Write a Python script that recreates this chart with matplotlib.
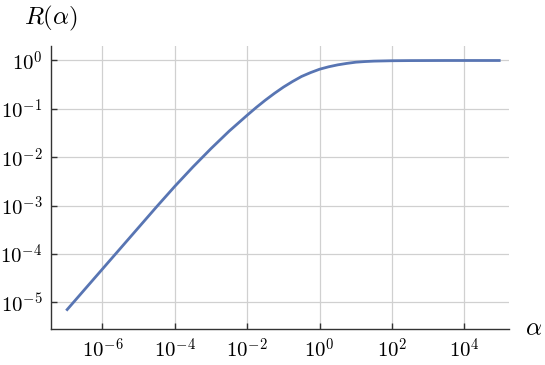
import numpy as np
import matplotlib
matplotlib.use("Agg")
import matplotlib.pyplot as plt
from matplotlib.ticker import FuncFormatter

# values (log10 alpha, log10 R)
log_alpha = [-7.0, -6.5, -6.0, -5.5, -5.0, -4.5, -4.0, -3.5, -3.0, -2.5, -2.0,
             -1.75, -1.5, -1.25, -1.0, -0.75, -0.5, -0.25, 0.0, 0.25, 0.5, 0.75,
             1.0, 1.25, 1.5, 2.0, 2.5, 3.0, 3.5, 4.0, 4.5, 5.0]
log_R = [-5.17, -4.74, -4.31, -3.88, -3.45, -3.02, -2.60, -2.20, -1.82, -1.46, -1.13,
         -0.97, -0.82, -0.68, -0.55, -0.435, -0.33, -0.25, -0.18, -0.13, -0.09, -0.06,
         -0.035, -0.022, -0.013, -0.005, -0.002, -0.001, 0.0, 0.0, 0.0, 0.0]
x_ticks = [-6, -4, -2, 0, 2, 4]
y_ticks = [-5, -4, -3, -2, -1, 0]

alpha = 10.0 ** np.array(log_alpha)
R = 10.0 ** np.array(log_R)

plt.rcParams["mathtext.fontset"] = "cm"

fig = plt.figure(figsize=(5.45, 3.65), dpi=100)
ax = fig.add_axes([50.7 / 545, 36 / 365, (509.3 - 50.7) / 545, (329 - 45.5) / 365])

ax.loglog(alpha, R, color="#5875b3", lw=2.0, solid_capstyle="butt")

ax.set_xlim(10 ** -7.43, 10 ** 5.24)
ax.set_ylim(10 ** -5.55, 10 ** 0.31)

ax.set_xticks([10.0 ** t for t in x_ticks])
ax.set_yticks([10.0 ** t for t in y_ticks])
ax.xaxis.set_minor_locator(plt.NullLocator())
ax.yaxis.set_minor_locator(plt.NullLocator())
fmt = FuncFormatter(lambda v, p: r"$10^{%d}$" % int(round(np.log10(v))))
ax.xaxis.set_major_formatter(fmt)
ax.yaxis.set_major_formatter(fmt)

ax.grid(True, color="#d0d0d0", lw=0.9)
ax.set_axisbelow(True)
for s in ["top", "right"]:
    ax.spines[s].set_visible(False)
for s in ["left", "bottom"]:
    ax.spines[s].set_color("#333333")
    ax.spines[s].set_linewidth(1.0)
ax.tick_params(direction="in", length=4, width=1.0, color="#333333",
               labelsize=15, pad=6)

fig.text(51 / 545, 1 - 18 / 365, r"$R(\alpha)$", ha="center", va="center", fontsize=18)
fig.text(534 / 545, 1 - 328 / 365, r"$\alpha$", ha="center", va="center", fontsize=18)

fig.savefig("out.png", dpi=100)
